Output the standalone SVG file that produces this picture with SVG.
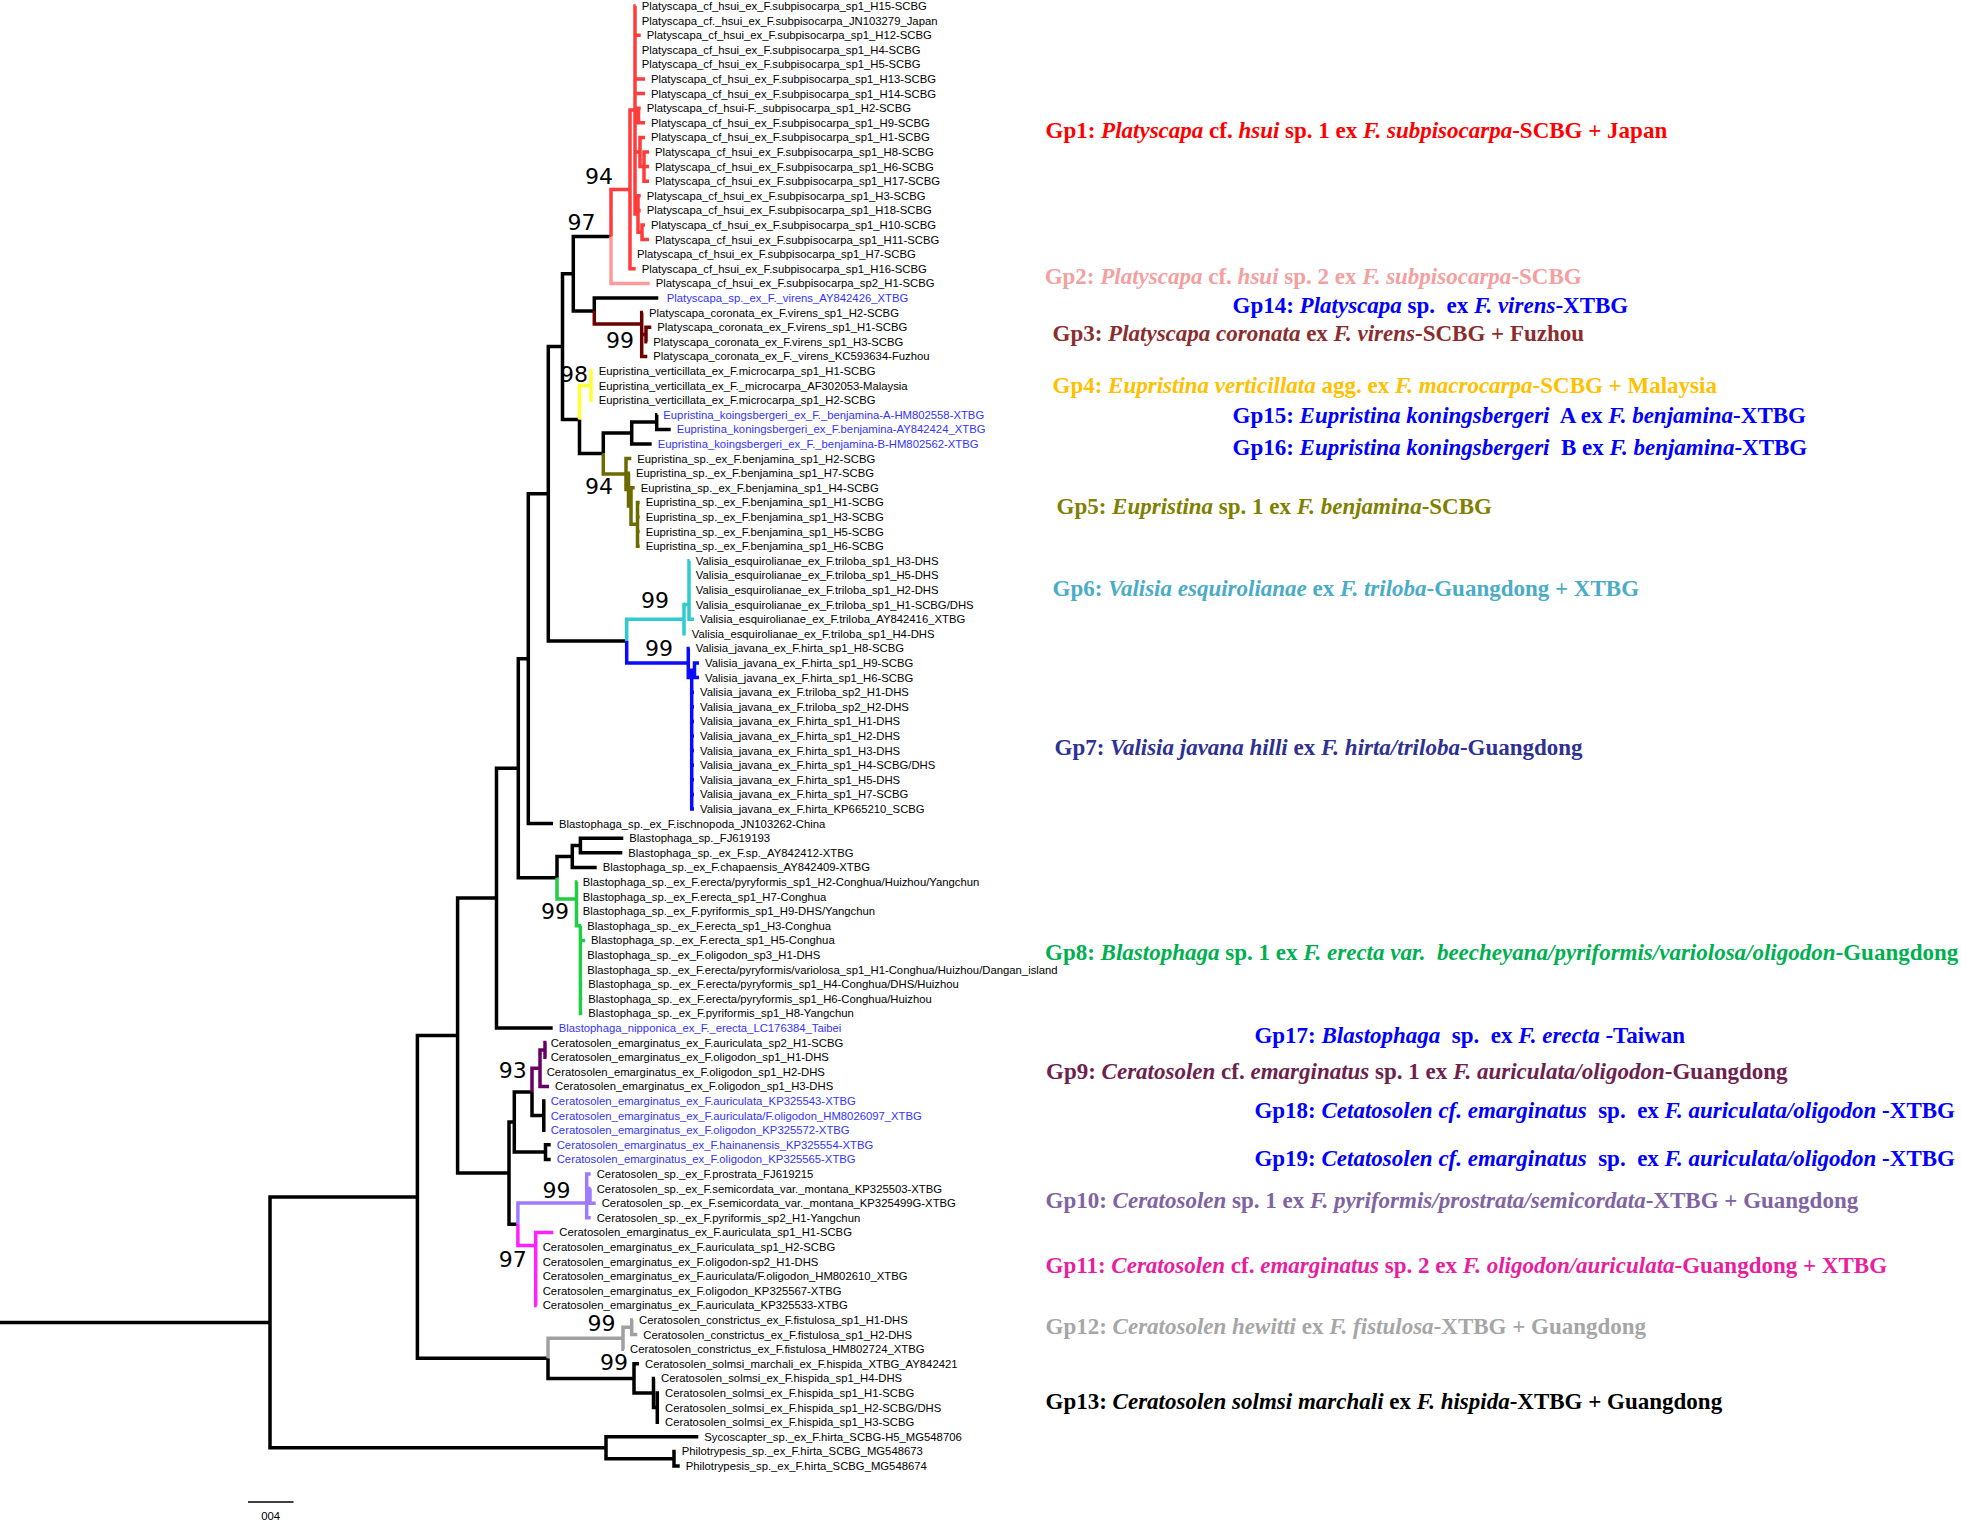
<svg xmlns="http://www.w3.org/2000/svg" width="1961" height="1524" viewBox="0 0 1961 1524">
<style>
.t{font-family:"Liberation Sans",Arial,sans-serif;font-size:11.3px;fill:#000}
.tb{fill:#3333ff}
.br{fill:none;stroke:#000;stroke-width:3.5;stroke-linejoin:miter}
.red{stroke:#ff3b3b}.pink{stroke:#ff9a9a}.dred{stroke:#6b0000}.yel{stroke:#ffff33}.olv{stroke:#6b6b00}
.cyn{stroke:#2ecccc}.blu{stroke:#0a0aff}.grn{stroke:#22cc44}.pur{stroke:#660066}.lav{stroke:#9f7aff}.mag{stroke:#ff22ff}.gry{stroke:#a0a0a0}
.bs{font-family:"DejaVu Sans",sans-serif;font-size:22px;text-anchor:middle;dominant-baseline:central;fill:#000}
.g{font-family:"Liberation Serif","Times New Roman",serif;font-weight:bold;font-size:23px}
.i{font-style:italic}
</style>
<rect width="1961" height="1524" fill="#fff"/>
<g id="connectors">
<path class="br" d="M0,1322.4H270 M270,1322.4V1197H417.4 M270,1322.4V1447.75H606 M606,1447.75V1436.8H698.3 M606,1447.75V1458.7H674 M674,1458.7V1451.4H675.7 M674,1458.7V1466H679.7
M417.4,1197V1035.6H457.6 M417.4,1197V1358.3H548 M548,1358.3V1378.4H634
M634,1378.4V1363.8H639 M634,1378.4V1393H653.5 M653.5,1393V1378.4H655 M653.5,1393V1407.6H657.3 M657.3,1407.6V1393H659 M657.3,1407.6V1407.6H659 M657.3,1407.6V1422.2H659
M457.6,1035.6V898.1H496.5 M457.6,1035.6V1173.1H509 M509,1173.1V1122H514.3 M509,1173.1V1224.25H517.9
M514.3,1122V1091.9H532 M514.3,1122V1152.1H545.5 M545.5,1152.1V1144.8H550.7 M545.5,1152.1V1159.4H550.7
M532,1091.9V1115.6H543.8 M543.8,1115.6V1101H545.5 M543.8,1115.6V1130.2H545.5 M543.8,1115.6H545.5
M496.5,898.1V768.2H518.3 M496.5,898.1V1028H552.7 M518.3,768.2V658.7H528.3 M518.3,768.2V877.75H557
M557,877.75V856.5H572.3 M572.3,856.5V845.5H580.4 M572.3,856.5V867.4H596.7 M580.4,845.5V838.2H623.3 M580.4,845.5V852.8H622.3
M528.3,658.7V493.85H548.3 M528.3,658.7V823.6H553 M548.3,493.85V346.6H562.5 M548.3,493.85V641.1H626.7
M562.5,346.6V273.7H573.3 M562.5,346.6V419.5H579.5 M579.5,419.5V453.5H603.3
M603.3,453.5V433H631.7 M631.7,433V422.1H656.7 M631.7,433V444H651.7 M656.7,422.1V414.8H657.3 M656.7,422.1V429.4H670.7
M573.3,273.7V236.4H611 M573.3,273.7V311H594.3 M594.3,311V298H658.3"/>
<path class="br gry" d="M548,1358.3V1338.25H623 M623,1338.25V1327.3H631.7 M623,1338.25V1349.2H624 M631.7,1327.3V1320H633 M631.7,1327.3V1334.6H637.3"/>
<path class="br lav" d="M517.9,1224.25V1203H586.7 M586.7,1203V1174H590.7 M586.7,1203V1195.9H590 M586.7,1203V1217.8H590.7 M590,1195.9V1188.6H590.7 M590,1195.9V1203.2H595.7"/>
<path class="br mag" d="M517.9,1224.25V1245.5H535.7 M535.7,1245.5V1232.4H553.3 M535.7,1245.5V1247H536.7 M535.7,1245.5V1305.4H536.7 M535.7,1261.6H536.7 M535.7,1276.2H536.7 M535.7,1290.8H536.7"/>
<path class="br pur" d="M532,1091.9V1068.2H540 M540,1068.2V1049.9H545 M540,1068.2V1071.8H540.7 M540,1068.2V1086.4H549 M545,1049.9V1042.6H546.5 M545,1049.9V1057.2H546.5"/>
<path class="br grn" d="M557,877.75V899H576.5 M576.5,899V882H577.5 M576.5,899V896.6H577.5 M576.5,899V911.2H577.5 M576.5,899V925.8H580.4 M580.4,925.8H581.3 M580.4,925.8V940.4H585 M580.4,940.4V955H581.3 M580.4,955V969.6H581.3 M580.4,969.6V984.2H582.3 M580.4,984.2V998.8H582.3 M580.4,998.8V1013.4H582.3"/>
<path class="br cyn" d="M626.7,641.1V619.2H684 M684,619.2V604.6H689 M684,619.2V633.8H685.7 M689,604.6V560.8H689.7 M689,604.6V575.4H689.7 M689,604.6V590H689.7 M689,604.6H689.7 M689,604.6V619.2H694"/>
<path class="br blu" d="M626.7,641.1V663H688.3 M688.3,663V648.4H689.7 M688.3,663V677.6H691.7 M691.7,677.6V670.3H694.5 M694.5,670.3V663H699 M694.5,670.3V677.6H699 M691.7,677.6V809H694 M691.7,692.2H694 M691.7,706.8H694 M691.7,721.4H694 M691.7,736H694 M691.7,750.6H694 M691.7,765.2H694 M691.7,779.8H694 M691.7,794.4H694"/>
<path class="br yel" d="M579.5,419.5V385.6H591 M591,385.6V371H592.7 M591,385.6H592.7 M591,385.6V400.2H592.7"/>
<path class="br olv" d="M603.3,453.5V474.1H626 M626,474.1V458.6H631.3 M626,474.1V489.6H628.5 M628.5,489.6V473.2H630 M628.5,489.6V506H631 M631,506V487.8H634.7 M631,506V524.3H637.5 M637.5,524.3V502.4H639.7 M637.5,524.3V517H639.7 M637.5,524.3V531.6H639.7 M637.5,524.3V546.2H639.7"/>
<path class="br dred" d="M594.3,311V324H641.7 M641.7,324V312.6H643 M641.7,324V334.5H646 M641.7,324V356.4H647.3 M646,334.5V327.2H651.3 M646,334.5V341.8H647.3"/>
<path class="br pink" d="M611,236.4V283.4H649.7"/>
<path class="br red" d="M611,236.4V189.4H630 M630,189.4V110H635 M630,189.4V254.2H631 M630,189.4V268.8H635.7
M635,110V6H635.7 M635,20.6H635.7 M635,35.2H640.7 M635,49.8H635.7 M635,64.4H635.7 M635,79H645 M635,93.6H645
M635,110V115.5H638.5 M638.5,115.5V108.2H640.7 M638.5,115.5V122.8H645
M635,110V152H640 M640,152V137.4H645 M640,152V166.6H644 M644,166.6V152H649 M644,166.6H649 M644,166.6V181.2H649
M635,110V214H638 M638,214V195.8H640.7 M638,214V210.4H640.7 M638,214V232.3H642 M642,232.3V225H645 M642,232.3V239.6H649"/>
</g>
<g id="support">
<text class="bs" x="599" y="176">94</text>
<text class="bs" x="581.5" y="222.6">97</text>
<text class="bs" x="620" y="340">99</text>
<text class="bs" x="574" y="374">98</text>
<text class="bs" x="599" y="486.5">94</text>
<text class="bs" x="655" y="600">99</text>
<text class="bs" x="659" y="648">99</text>
<text class="bs" x="555" y="911.7">99</text>
<text class="bs" x="512.7" y="1070.5">93</text>
<text class="bs" x="556.5" y="1190.6">99</text>
<text class="bs" x="512.7" y="1259.4">97</text>
<text class="bs" x="601.5" y="1323">99</text>
<text class="bs" x="614" y="1362">99</text>
</g>
<g id="leaves" class="t">
<text id="L1" x="641.7" y="10">Platyscapa_cf_hsui_ex_F.subpisocarpa_sp1_H15-SCBG</text>
<text id="L2" x="641.7" y="24.6">Platyscapa_cf._hsui_ex_F.subpisocarpa_JN103279_Japan</text>
<text id="L3" x="646.7" y="39.2">Platyscapa_cf_hsui_ex_F.subpisocarpa_sp1_H12-SCBG</text>
<text id="L4" x="641.7" y="53.8">Platyscapa_cf_hsui_ex_F.subpisocarpa_sp1_H4-SCBG</text>
<text id="L5" x="641.7" y="68.4">Platyscapa_cf_hsui_ex_F.subpisocarpa_sp1_H5-SCBG</text>
<text id="L6" x="651" y="83">Platyscapa_cf_hsui_ex_F.subpisocarpa_sp1_H13-SCBG</text>
<text id="L7" x="651" y="97.6">Platyscapa_cf_hsui_ex_F.subpisocarpa_sp1_H14-SCBG</text>
<text id="L8" x="646.7" y="112.2">Platyscapa_cf_hsui-F._subpisocarpa_sp1_H2-SCBG</text>
<text id="L9" x="651" y="126.8">Platyscapa_cf_hsui_ex_F.subpisocarpa_sp1_H9-SCBG</text>
<text id="L10" x="651" y="141.4">Platyscapa_cf_hsui_ex_F.subpisocarpa_sp1_H1-SCBG</text>
<text id="L11" x="655" y="156">Platyscapa_cf_hsui_ex_F.subpisocarpa_sp1_H8-SCBG</text>
<text id="L12" x="655" y="170.6">Platyscapa_cf_hsui_ex_F.subpisocarpa_sp1_H6-SCBG</text>
<text id="L13" x="655" y="185.2">Platyscapa_cf_hsui_ex_F.subpisocarpa_sp1_H17-SCBG</text>
<text id="L14" x="646.7" y="199.8">Platyscapa_cf_hsui_ex_F.subpisocarpa_sp1_H3-SCBG</text>
<text id="L15" x="646.7" y="214.4">Platyscapa_cf_hsui_ex_F.subpisocarpa_sp1_H18-SCBG</text>
<text id="L16" x="651" y="229">Platyscapa_cf_hsui_ex_F.subpisocarpa_sp1_H10-SCBG</text>
<text id="L17" x="655" y="243.6">Platyscapa_cf_hsui_ex_F.subpisocarpa_sp1_H11-SCBG</text>
<text id="L18" x="637" y="258.2">Platyscapa_cf_hsui_ex_F.subpisocarpa_sp1_H7-SCBG</text>
<text id="L19" x="641.7" y="272.8">Platyscapa_cf_hsui_ex_F.subpisocarpa_sp1_H16-SCBG</text>
<text id="L20" x="655.7" y="287.4">Platyscapa_cf_hsui_ex_F.subpisocarpa_sp2_H1-SCBG</text>
<text id="L21" class="tb" x="666.7" y="302">Platyscapa_sp._ex_F._virens_AY842426_XTBG</text>
<text id="L22" x="649" y="316.6">Platyscapa_coronata_ex_F.virens_sp1_H2-SCBG</text>
<text id="L23" x="657.3" y="331.2">Platyscapa_coronata_ex_F.virens_sp1_H1-SCBG</text>
<text id="L24" x="653.3" y="345.8">Platyscapa_coronata_ex_F.virens_sp1_H3-SCBG</text>
<text id="L25" x="653.3" y="360.4">Platyscapa_coronata_ex_F._virens_KC593634-Fuzhou</text>
<text id="L26" x="598.7" y="375">Eupristina_verticillata_ex_F.microcarpa_sp1_H1-SCBG</text>
<text id="L27" x="598.7" y="389.6">Eupristina_verticillata_ex_F._microcarpa_AF302053-Malaysia</text>
<text id="L28" x="598.7" y="404.2">Eupristina_verticillata_ex_F.microcarpa_sp1_H2-SCBG</text>
<text id="L29" class="tb" x="663.3" y="418.8">Eupristina_koingsbergeri_ex_F._benjamina-A-HM802558-XTBG</text>
<text id="L30" class="tb" x="676.7" y="433.4">Eupristina_koningsbergeri_ex_F.benjamina-AY842424_XTBG</text>
<text id="L31" class="tb" x="657.7" y="448">Eupristina_koingsbergeri_ex_F._benjamina-B-HM802562-XTBG</text>
<text id="L32" x="637.3" y="462.6">Eupristina_sp._ex_F.benjamina_sp1_H2-SCBG</text>
<text id="L33" x="636" y="477.2">Eupristina_sp._ex_F.benjamina_sp1_H7-SCBG</text>
<text id="L34" x="640.7" y="491.8">Eupristina_sp._ex_F.benjamina_sp1_H4-SCBG</text>
<text id="L35" x="645.7" y="506.4">Eupristina_sp._ex_F.benjamina_sp1_H1-SCBG</text>
<text id="L36" x="645.7" y="521">Eupristina_sp._ex_F.benjamina_sp1_H3-SCBG</text>
<text id="L37" x="645.7" y="535.6">Eupristina_sp._ex_F.benjamina_sp1_H5-SCBG</text>
<text id="L38" x="645.7" y="550.2">Eupristina_sp._ex_F.benjamina_sp1_H6-SCBG</text>
<text id="L39" x="695.7" y="564.8">Valisia_esquirolianae_ex_F.triloba_sp1_H3-DHS</text>
<text id="L40" x="695.7" y="579.4">Valisia_esquirolianae_ex_F.triloba_sp1_H5-DHS</text>
<text id="L41" x="695.7" y="594">Valisia_esquirolianae_ex_F.triloba_sp1_H2-DHS</text>
<text id="L42" x="695.7" y="608.6">Valisia_esquirolianae_ex_F.triloba_sp1_H1-SCBG/DHS</text>
<text id="L43" x="700" y="623.2">Valisia_esquirolianae_ex_F.triloba_AY842416_XTBG</text>
<text id="L44" x="691.7" y="637.8">Valisia_esquirolianae_ex_F.triloba_sp1_H4-DHS</text>
<text id="L45" x="695.7" y="652.4">Valisia_javana_ex_F.hirta_sp1_H8-SCBG</text>
<text id="L46" x="705" y="667">Valisia_javana_ex_F.hirta_sp1_H9-SCBG</text>
<text id="L47" x="705" y="681.6">Valisia_javana_ex_F.hirta_sp1_H6-SCBG</text>
<text id="L48" x="700" y="696.2">Valisia_javana_ex_F.triloba_sp2_H1-DHS</text>
<text id="L49" x="700" y="710.8">Valisia_javana_ex_F.triloba_sp2_H2-DHS</text>
<text id="L50" x="700" y="725.4">Valisia_javana_ex_F.hirta_sp1_H1-DHS</text>
<text id="L51" x="700" y="740">Valisia_javana_ex_F.hirta_sp1_H2-DHS</text>
<text id="L52" x="700" y="754.6">Valisia_javana_ex_F.hirta_sp1_H3-DHS</text>
<text id="L53" x="700" y="769.2">Valisia_javana_ex_F.hirta_sp1_H4-SCBG/DHS</text>
<text id="L54" x="700" y="783.8">Valisia_javana_ex_F.hirta_sp1_H5-DHS</text>
<text id="L55" x="700" y="798.4">Valisia_javana_ex_F.hirta_sp1_H7-SCBG</text>
<text id="L56" x="700" y="813">Valisia_javana_ex_F.hirta_KP665210_SCBG</text>
<text id="L57" x="559" y="827.6">Blastophaga_sp._ex_F.ischnopoda_JN103262-China</text>
<text id="L58" x="629.3" y="842.2">Blastophaga_sp._FJ619193</text>
<text id="L59" x="628.3" y="856.8">Blastophaga_sp._ex_F.sp._AY842412-XTBG</text>
<text id="L60" x="602.7" y="871.4">Blastophaga_sp._ex_F.chapaensis_AY842409-XTBG</text>
<text id="L61" x="582.7" y="886">Blastophaga_sp._ex_F.erecta/pyryformis_sp1_H2-Conghua/Huizhou/Yangchun</text>
<text id="L62" x="582.7" y="900.6">Blastophaga_sp._ex_F.erecta_sp1_H7-Conghua</text>
<text id="L63" x="582.7" y="915.2">Blastophaga_sp._ex_F.pyriformis_sp1_H9-DHS/Yangchun</text>
<text id="L64" x="587.3" y="929.8">Blastophaga_sp._ex_F.erecta_sp1_H3-Conghua</text>
<text id="L65" x="591" y="944.4">Blastophaga_sp._ex_F.erecta_sp1_H5-Conghua</text>
<text id="L66" x="587.3" y="959">Blastophaga_sp._ex_F.oligodon_sp3_H1-DHS</text>
<text id="L67" x="587.3" y="973.6">Blastophaga_sp._ex_F.erecta/pyryformis/variolosa_sp1_H1-Conghua/Huizhou/Dangan_island</text>
<text id="L68" x="588.3" y="988.2">Blastophaga_sp._ex_F.erecta/pyryformis_sp1_H4-Conghua/DHS/Huizhou</text>
<text id="L69" x="588.3" y="1002.8">Blastophaga_sp._ex_F.erecta/pyryformis_sp1_H6-Conghua/Huizhou</text>
<text id="L70" x="588.3" y="1017.4">Blastophaga_sp._ex_F.pyriformis_sp1_H8-Yangchun</text>
<text id="L71" class="tb" x="558.7" y="1032">Blastophaga_nipponica_ex_F._erecta_LC176384_Taibei</text>
<text id="L72" x="550.7" y="1046.6">Ceratosolen_emarginatus_ex_F.auriculata_sp2_H1-SCBG</text>
<text id="L73" x="550.7" y="1061.2">Ceratosolen_emarginatus_ex_F.oligodon_sp1_H1-DHS</text>
<text id="L74" x="546.7" y="1075.8">Ceratosolen_emarginatus_ex_F.oligodon_sp1_H2-DHS</text>
<text id="L75" x="555" y="1090.4">Ceratosolen_emarginatus_ex_F.oligodon_sp1_H3-DHS</text>
<text id="L76" class="tb" x="550.7" y="1105">Ceratosolen_emarginatus_ex_F.auriculata_KP325543-XTBG</text>
<text id="L77" class="tb" x="550.7" y="1119.6">Ceratosolen_emarginatus_ex_F.auriculata/F.oligodon_HM8026097_XTBG</text>
<text id="L78" class="tb" x="550.7" y="1134.2">Ceratosolen_emarginatus_ex_F.oligodon_KP325572-XTBG</text>
<text id="L79" class="tb" x="556.7" y="1148.8">Ceratosolen_emarginatus_ex_F.hainanensis_KP325554-XTBG</text>
<text id="L80" class="tb" x="556.7" y="1163.4">Ceratosolen_emarginatus_ex_F.oligodon_KP325565-XTBG</text>
<text id="L81" x="596.7" y="1178">Ceratosolen_sp._ex_F.prostrata_FJ619215</text>
<text id="L82" x="596.7" y="1192.6">Ceratosolen_sp._ex_F.semicordata_var._montana_KP325503-XTBG</text>
<text id="L83" x="601.7" y="1207.2">Ceratosolen_sp._ex_F.semicordata_var._montana_KP325499G-XTBG</text>
<text id="L84" x="596.7" y="1221.8">Ceratosolen_sp._ex_F.pyriformis_sp2_H1-Yangchun</text>
<text id="L85" x="559.3" y="1236.4">Ceratosolen_emarginatus_ex_F.auriculata_sp1_H1-SCBG</text>
<text id="L86" x="542.7" y="1251">Ceratosolen_emarginatus_ex_F.auriculata_sp1_H2-SCBG</text>
<text id="L87" x="542.7" y="1265.6">Ceratosolen_emarginatus_ex_F.oligodon-sp2_H1-DHS</text>
<text id="L88" x="542.7" y="1280.2">Ceratosolen_emarginatus_ex_F.auriculata/F.oligodon_HM802610_XTBG</text>
<text id="L89" x="542.7" y="1294.8">Ceratosolen_emarginatus_ex_F.oligodon_KP325567-XTBG</text>
<text id="L90" x="542.7" y="1309.4">Ceratosolen_emarginatus_ex_F.auriculata_KP325533-XTBG</text>
<text id="L91" x="639" y="1324">Ceratosolen_constrictus_ex_F.fistulosa_sp1_H1-DHS</text>
<text id="L92" x="643.3" y="1338.6">Ceratosolen_constrictus_ex_F.fistulosa_sp1_H2-DHS</text>
<text id="L93" x="630" y="1353.2">Ceratosolen_constrictus_ex_F.fistulosa_HM802724_XTBG</text>
<text id="L94" x="645" y="1367.8">Ceratosolen_solmsi_marchali_ex_F.hispida_XTBG_AY842421</text>
<text id="L95" x="661" y="1382.4">Ceratosolen_solmsi_ex_F.hispida_sp1_H4-DHS</text>
<text id="L96" x="665" y="1397">Ceratosolen_solmsi_ex_F.hispida_sp1_H1-SCBG</text>
<text id="L97" x="665" y="1411.6">Ceratosolen_solmsi_ex_F.hispida_sp1_H2-SCBG/DHS</text>
<text id="L98" x="665" y="1426.2">Ceratosolen_solmsi_ex_F.hispida_sp1_H3-SCBG</text>
<text id="L99" x="704.3" y="1440.8">Sycoscapter_sp._ex_F.hirta_SCBG-H5_MG548706</text>
<text id="L100" x="681.7" y="1455.4">Philotrypesis_sp._ex_F.hirta_SCBG_MG548673</text>
<text id="L101" x="685.7" y="1470">Philotrypesis_sp._ex_F.hirta_SCBG_MG548674</text>
</g>
<g id="scalebar">
<line x1="248" y1="1502" x2="293.5" y2="1502" stroke="#000" stroke-width="1.5"/>
<text class="t" x="270.7" y="1520" text-anchor="middle" font-size="10">004</text>
</g>
<g id="groups" class="g">
<text id="Gp1" x="1045.5" y="138" fill="#ff0000">Gp1: <tspan class="i">Platyscapa</tspan> cf. <tspan class="i">hsui</tspan> sp. 1 ex <tspan class="i">F. subpisocarpa</tspan>-SCBG + Japan</text>
<text id="Gp2" x="1044.7" y="284" fill="#f4a0a0">Gp2: <tspan class="i">Platyscapa</tspan> cf. <tspan class="i">hsui</tspan> sp. 2 ex <tspan class="i">F. subpisocarpa</tspan>-SCBG</text>
<text id="Gp14" x="1232.5" y="313" fill="#0000ff">Gp14: <tspan class="i">Platyscapa</tspan> sp.&#160; ex <tspan class="i">F. virens</tspan>-XTBG</text>
<text id="Gp3" x="1052.5" y="340.7" fill="#8b2d2d">Gp3: <tspan class="i">Platyscapa coronata</tspan> ex <tspan class="i">F. virens</tspan>-SCBG + Fuzhou</text>
<text id="Gp4" x="1052.5" y="392.5" fill="#ffc000">Gp4: <tspan class="i">Eupristina verticillata</tspan> agg. ex <tspan class="i">F. macrocarpa</tspan>-SCBG + Malaysia</text>
<text id="Gp15" x="1232.5" y="423" fill="#0000ff">Gp15: <tspan class="i">Eupristina koningsbergeri</tspan>&#160; A ex <tspan class="i">F. benjamina</tspan>-XTBG</text>
<text id="Gp16" x="1232.5" y="455" fill="#0000ff">Gp16: <tspan class="i">Eupristina koningsbergeri</tspan>&#160; B ex <tspan class="i">F. benjamina</tspan>-XTBG</text>
<text id="Gp5" x="1056.5" y="514" fill="#7f7f00">Gp5: <tspan class="i">Eupristina</tspan> sp. 1 ex <tspan class="i">F. benjamina</tspan>-SCBG</text>
<text id="Gp6" x="1052.5" y="596" fill="#4aacc6">Gp6: <tspan class="i">Valisia esquirolianae</tspan> ex <tspan class="i">F. triloba</tspan>-Guangdong + XTBG</text>
<text id="Gp7" x="1054.5" y="755" fill="#2e3192">Gp7: <tspan class="i">Valisia javana hilli</tspan> ex <tspan class="i">F. hirta/triloba</tspan>-Guangdong</text>
<text id="Gp8" x="1045" y="960" fill="#00b050">Gp8: <tspan class="i">Blastophaga</tspan> sp. 1 ex <tspan class="i">F. erecta var.&#160; beecheyana/pyriformis/variolosa/oligodon</tspan>-Guangdong</text>
<text id="Gp17" x="1254.4" y="1042.5" fill="#0000ff">Gp17: <tspan class="i">Blastophaga</tspan>&#160; sp.&#160; ex <tspan class="i">F. erecta</tspan> -Taiwan</text>
<text id="Gp9" x="1046" y="1079" fill="#6e1f4d">Gp9: <tspan class="i">Ceratosolen</tspan> cf. <tspan class="i">emarginatus</tspan> sp. 1 ex <tspan class="i">F. auriculata/oligodon</tspan>-Guangdong</text>
<text id="Gp18" x="1254.4" y="1117.5" fill="#0000ff">Gp18: <tspan class="i">Cetatosolen cf. emarginatus</tspan>&#160; sp.&#160; ex <tspan class="i">F. auriculata/oligodon</tspan> -XTBG</text>
<text id="Gp19" x="1254.4" y="1166.3" fill="#0000ff">Gp19: <tspan class="i">Cetatosolen cf. emarginatus</tspan>&#160; sp.&#160; ex <tspan class="i">F. auriculata/oligodon</tspan> -XTBG</text>
<text id="Gp10" x="1045.5" y="1207.6" fill="#8064a2">Gp10: <tspan class="i">Ceratosolen</tspan> sp. 1 ex <tspan class="i">F. pyriformis/prostrata/semicordata</tspan>-XTBG + Guangdong</text>
<text id="Gp11" x="1045.5" y="1272.6" fill="#e81ea0">Gp11: <tspan class="i">Ceratosolen</tspan> cf. <tspan class="i">emarginatus</tspan> sp. 2 ex <tspan class="i">F. oligodon/auriculata</tspan>-Guangdong + XTBG</text>
<text id="Gp12" x="1045.5" y="1334" fill="#a6a6a6">Gp12: <tspan class="i">Ceratosolen hewitti</tspan> ex <tspan class="i">F. fistulosa</tspan>-XTBG + Guangdong</text>
<text id="Gp13" x="1045.5" y="1409" fill="#000">Gp13: <tspan class="i">Ceratosolen solmsi marchali</tspan> ex <tspan class="i">F. hispida</tspan>-XTBG + Guangdong</text>
</g>
</svg>
